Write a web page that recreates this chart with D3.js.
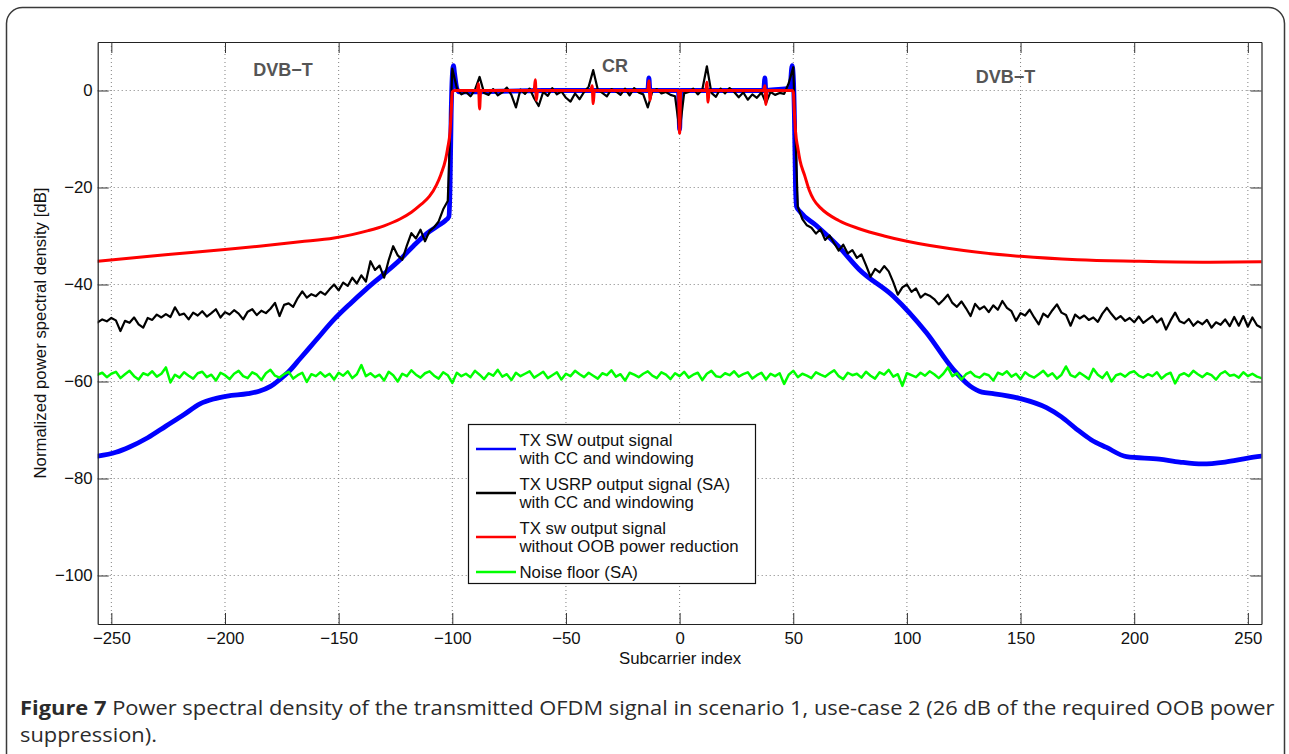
<!DOCTYPE html>
<html>
<head>
<meta charset="utf-8">
<script src="https://cdn.jsdelivr.net/npm/d3@7"></script>
<style>
  html, body { margin: 0; padding: 0; background: #fff; }
  svg { display: block; }
</style>
</head>
<body>
<div id="chart"></div>
<script>
// axis ticks
const subcarrierTicks = [-250, -200, -150, -100, -50, 0, 50, 100, 150, 200, 250];
const dbTicks = [-100, -80, -60, -40, -20, 0];

// TX SW output signal with CC and windowing (smooth, read as [subcarrier, dB])
const swWindowed = [
  [-256, -75.4], [-248, -74.6], [-242, -73.5], [-234, -71.6], [-226, -69.2], [-218, -66.8],
  [-211, -64.6], [-205, -63.6], [-199, -63.0], [-190, -62.5], [-185, -62.0], [-180, -61.0],
  [-176, -59.6], [-172, -58.0], [-167, -55.3], [-160, -51.5], [-152, -47.2], [-145, -44.0],
  [-138, -41.0], [-130, -37.8], [-123, -34.9], [-117, -32.0], [-111, -29.4], [-106, -27.8],
  [-103, -26.8], [-101.5, -26], [-101, -20], [-100.5, -5], [-100, 3], [-99.5, 5.1], [-99, 3.5],
  [-98, 0.4], [-97, -0.3], [-60, 0], [-14, 0], [-13.5, 2.6], [-13, -0.4], [-12.5, 0],
  [-0.5, 0], [0, -8.0], [0.5, 0], [37, 0], [37.5, 2.6], [38, -0.3], [38.5, 0], [48.5, 0.5],
  [49.5, 5.1], [50, 3], [50.5, -5], [51, -20], [51.5, -24], [53, -25], [60, -27.8],
  [70, -32.2], [79, -36.9], [94, -42.4], [108.7, -50], [120.4, -57.5], [127.7, -60.9],
  [133, -62.2], [138, -62.5], [149.7, -63.5], [161.4, -65.4], [168, -67.3], [174.6, -69.8],
  [181, -72], [187.8, -73.6], [196.6, -75.5], [211, -76], [220, -76.6], [230, -77.0],
  [240, -76.6], [250, -75.8], [256, -75.4]
];

// TX USRP output signal (SA), one value every 2 subcarriers from -256 to 256
const usrpDb = [
  -47.8, -47.2, -47.6, -46.9, -47.4, -49.6, -47.5, -47.9, -46.8, -48.2,
  -48.9, -46.9, -47.3, -46.2, -46.8, -46.1, -46.7, -44.7, -46.3, -46.0,
  -47.2, -45.8, -46.4, -45.5, -46.6, -45.9, -45.1, -46.8, -45.7, -46.2,
  -45.3, -46.0, -47.2, -45.6, -45.1, -46.3, -45.4, -45.9, -45.0, -43.8,
  -46.5, -44.2, -43.9, -44.6, -42.8, -41.4, -42.7, -42.0, -42.4, -41.5,
  -42.1, -41.0, -40.0, -41.2, -39.6, -40.3, -38.6, -39.8, -38.1, -39.4,
  -35.2, -37.0, -36.1, -38.6, -35.0, -32.1, -34.0, -34.9, -32.0, -29.4,
  -30.5, -28.7, -31.1, -29.0, -28.2, -27.0, -24.5, -22.8, 4.5, 0.5,
  -0.8, -0.3, -1.2, 0.2, 2.8, -0.5, -0.9, 0.3, -1.0, -0.4,
  0.6, -0.9, -3.5, 0.2, -0.7, 0.4, -1.6, -3.2, -0.3, -1.1,
  0.5, -0.8, -0.2, -1.5, -2.3, -0.6, -1.8, -0.3, 0.8, 4.2,
  0.2, -0.5, -1.2, 0.3, -0.2, -0.9, 0.4, -1.0, 0.5, -0.4,
  -0.8, -3.5, -0.2, 0.3, -0.6, -0.3, -0.9, -1.2, -8.3, -0.6,
  -0.3, 0.4, -0.8, 0.2, 5.0, -0.5, -1.3, 0.4, -0.6, 0.5,
  -0.3, -1.4, -0.4, -1.9, -0.8, -1.5, -0.4, -2.6, -0.3, -0.9,
  -0.5, -0.7, 1.5, 4.8, -24.0, -26.5, -27.8, -28.3, -29.5, -28.6,
  -30.8, -29.9, -31.5, -33.0, -31.8, -33.6, -32.9, -34.5, -33.8, -36.0,
  -38.4, -36.8, -37.5, -36.2, -37.3, -39.5, -42.1, -40.6, -40.0, -41.5,
  -40.8, -42.7, -41.9, -42.3, -43.0, -44.1, -43.2, -42.1, -43.8, -44.6,
  -43.5, -44.9, -46.5, -44.0, -45.1, -44.5, -45.7, -44.3, -45.2, -43.4,
  -44.8, -45.5, -47.5, -45.9, -46.4, -45.2, -46.8, -48.2, -46.0, -46.7,
  -45.3, -44.1, -45.8, -46.3, -48.5, -46.2, -47.0, -46.4, -47.3, -46.8,
  -47.7, -46.0, -44.8, -46.1, -47.2, -46.5, -47.5, -46.9, -47.8, -46.6,
  -47.9, -47.2, -46.5, -47.8, -47.0, -49.3, -47.4, -45.8, -47.6, -48.0,
  -47.1, -48.5, -47.6, -48.2, -47.3, -48.9, -47.8, -48.3, -47.2, -48.6,
  -46.7, -48.5, -46.5, -48.7, -46.8, -48.4, -48.9
];

// TX sw output signal without OOB power reduction
const swNoReduction = [
  [-256, -35.2], [-240, -34.5], [-225, -33.8], [-200, -32.8], [-185, -32.1], [-167, -31.2],
  [-152, -30.4], [-137, -28.9], [-130, -27.9], [-123, -26.5], [-118, -25.1], [-114, -23.6],
  [-110, -21.8], [-107, -19.5], [-105, -17.3], [-103, -14.3], [-102, -11.8], [-101, -8.5],
  [-100.5, -4.5], [-100, -0.3], [-99, 0], [-89, 0], [-88.5, 1.4], [-88, -3.8], [-87.5, 0],
  [-64, 0], [-63.5, 2.2], [-63, -2.0], [-62.5, 0], [-39, 0], [-38.5, 1.0], [-38, -2.7],
  [-37.5, 0], [-14, 0], [-13.5, 2.0], [-13, -2.0], [-12.5, 0], [-0.5, 0], [0, -8.8],
  [0.5, 0], [11.5, 0], [12, 1.7], [12.5, -2.4], [13, 0], [37, 0], [37.5, 1.0], [38, -2.9],
  [38.5, 0], [49.5, 0], [50, -0.3], [50.5, -4.5], [51, -8.5], [52, -11.8], [53, -14.5],
  [55, -17.5], [57, -20.5], [59, -22.5], [62, -24.2], [70, -26.8], [79, -28.5], [90, -30.0],
  [100, -31.1], [125, -33.0], [150, -34.2], [175, -34.9], [200, -35.2], [230, -35.4],
  [256, -35.3]
];

// Noise floor (SA), one value every 2 subcarriers from -256 to 256
const noiseFloorDb = [
  -58.6, -58.2, -59.1, -58.4, -58.0, -59.3, -58.5, -57.8, -58.9, -59.6,
  -58.3, -58.7, -57.9, -59.0, -58.4, -57.1, -60.2, -58.6, -59.2, -58.1,
  -58.8, -59.4, -58.3, -58.0, -59.1, -58.6, -59.8, -58.2, -58.7, -59.5,
  -58.4, -57.8, -58.9, -59.3, -58.1, -58.6, -59.7, -58.3, -57.6, -58.8,
  -59.2, -58.5, -58.0, -59.4, -58.7, -58.2, -60.1, -58.5, -58.9, -58.1,
  -59.0, -58.4, -59.6, -58.2, -58.8, -57.9, -59.3, -58.5, -56.6, -58.9,
  -58.3, -59.1, -58.6, -59.8, -58.0, -58.7, -60.0, -58.4, -58.9, -57.7,
  -58.6, -59.2, -58.3, -57.9, -58.8, -59.4, -58.1, -58.7, -60.3, -58.2,
  -58.9, -58.4, -59.1, -57.8, -58.6, -59.5, -58.3, -58.8, -57.6, -59.0,
  -58.5, -59.7, -58.2, -58.9, -58.4, -57.9, -59.2, -58.6, -58.0, -59.3,
  -58.7, -58.1, -59.6, -58.4, -58.9, -57.8, -58.5, -59.1, -58.2, -58.8,
  -59.4, -58.3, -58.7, -57.7, -59.0, -58.5, -59.8, -58.2, -58.6, -59.1,
  -58.4, -57.9, -58.8, -59.3, -58.1, -58.6, -59.5, -58.3, -58.9, -58.0,
  -59.2, -58.6, -58.2, -59.7, -58.4, -57.8, -58.9, -59.1, -58.3, -58.7,
  -57.9, -59.0, -58.5, -58.1, -59.4, -58.7, -58.2, -59.6, -58.4, -58.9,
  -58.3, -60.5, -58.6, -57.8, -59.1, -58.4, -58.8, -59.3, -58.1, -58.6,
  -59.0, -58.3, -57.7, -58.9, -59.5, -58.2, -58.7, -58.4, -59.2, -58.0,
  -58.8, -59.4, -58.1, -58.6, -57.6, -59.0, -58.5, -60.9, -58.3, -58.7,
  -59.1, -58.2, -58.8, -57.9, -58.5, -59.3, -58.4, -57.1, -58.9, -58.3,
  -59.6, -58.5, -58.0, -58.9, -59.2, -58.4, -58.7, -59.8, -58.2, -58.6,
  -57.9, -59.0, -58.4, -59.5, -58.1, -58.8, -59.2, -58.5, -57.8, -58.9,
  -58.3, -59.4, -58.6, -56.9, -58.7, -59.1, -58.2, -58.8, -59.5, -57.4,
  -58.6, -59.3, -58.1, -60.0, -58.7, -58.4, -59.0, -58.2, -57.9, -58.8,
  -59.2, -58.5, -58.9, -58.1, -59.4, -58.6, -58.2, -60.4, -58.7, -58.3,
  -58.9, -57.8, -58.5, -59.1, -58.3, -58.7, -59.6, -58.4, -57.9, -58.8,
  -58.6, -59.2, -58.1, -58.9, -58.4, -59.0, -59.3
];

// band annotations [label, subcarrier, dB]
const bandLabels = [["DVB\u2212T", -174.5, 3.0], ["CR", -28.4, 3.9], ["DVB\u2212T", 143.4, 1.5]];

const legendLabels = [
  ["TX SW output signal", "with CC and windowing"],
  ["TX USRP output signal (SA)", "with CC and windowing"],
  ["TX sw output signal", "without OOB power reduction"],
  ["Noise floor (SA)"]
];
const seriesColors = ["#0000ff", "#000000", "#ff0000", "#00ff00"];
const seriesWidths = [4.8, 2.2, 3, 2.5];

const width = 1289, height = 754;
const plot = {left: 97.7, right: 1261.5, top: 42, bottom: 624};
const axisFont = "'Liberation Sans', Arial, sans-serif";

const svg = d3.select("#chart").append("svg")
    .attr("width", width)
    .attr("height", height)
    .attr("viewBox", [0, 0, width, height]);

// outer rounded frame
svg.append("rect")
    .attr("x", 6.5).attr("y", 7.5)
    .attr("width", 1278).attr("height", 770)
    .attr("rx", 16)
    .attr("fill", "none")
    .attr("stroke", "#3a3a3a")
    .attr("stroke-width", 1.5);

const x = d3.scaleLinear().domain([-256, 256]).range([plot.left, plot.right]);
const y = d3.scaleLinear().domain([-110, 10]).range([plot.bottom, plot.top]);

// grid
const grid = svg.append("g")
    .attr("stroke", "#808080")
    .attr("stroke-width", 1)
    .attr("stroke-dasharray", "1,3");
grid.selectAll("line.gx").data(subcarrierTicks).join("line")
    .attr("class", "gx")
    .attr("x1", d => x(d)).attr("x2", d => x(d))
    .attr("y1", plot.top).attr("y2", plot.bottom);
grid.selectAll("line.gy").data(dbTicks).join("line")
    .attr("class", "gy")
    .attr("x1", plot.left).attr("x2", plot.right)
    .attr("y1", d => y(d)).attr("y2", d => y(d));

// curves
svg.append("clipPath").attr("id", "clip")
  .append("rect")
    .attr("x", plot.left).attr("y", plot.top)
    .attr("width", plot.right - plot.left).attr("height", plot.bottom - plot.top);

const smoothLine = d3.line()
    .x(d => x(d[0]))
    .y(d => y(d[1]))
    .curve(d3.curveMonotoneX);
const rawLine = d3.line()
    .x((d, i) => x(-256 + 2 * i))
    .y(d => y(d));

const curves = svg.append("g")
    .attr("clip-path", "url(#clip)")
    .attr("fill", "none")
    .attr("stroke-linejoin", "round")
    .attr("stroke-linecap", "round");

curves.append("path").attr("d", smoothLine(swWindowed))
    .attr("stroke", seriesColors[0]).attr("stroke-width", seriesWidths[0]);
curves.append("path").attr("d", rawLine(usrpDb))
    .attr("stroke", seriesColors[1]).attr("stroke-width", seriesWidths[1]);
curves.append("path").attr("d", smoothLine(swNoReduction))
    .attr("stroke", seriesColors[2]).attr("stroke-width", seriesWidths[2]);
curves.append("path").attr("d", rawLine(noiseFloorDb))
    .attr("stroke", seriesColors[3]).attr("stroke-width", seriesWidths[3]);

// axes (ticks point inward, like MATLAB)
function styleAxis(g) {
    g.select(".domain").attr("stroke", "#222").attr("stroke-width", 1.2);
    g.selectAll(".tick line").attr("stroke", "#333").attr("stroke-width", 1);
    g.selectAll(".tick text")
        .attr("fill", "#111")
        .style("font-family", axisFont)
        .style("font-size", "16.8px");
}

svg.append("g")
    .attr("transform", `translate(0,${plot.bottom})`)
    .call(d3.axisBottom(x).tickValues(subcarrierTicks).tickSizeInner(-11).tickSizeOuter(0).tickPadding(8))
    .call(styleAxis);
svg.append("g")
    .attr("transform", `translate(0,${plot.top})`)
    .call(d3.axisTop(x).tickValues(subcarrierTicks).tickSizeInner(-11).tickSizeOuter(0).tickFormat(""))
    .call(styleAxis);
svg.append("g")
    .attr("transform", `translate(${plot.left},0)`)
    .call(d3.axisLeft(y).tickValues(dbTicks).tickSizeInner(-11).tickSizeOuter(0).tickPadding(5))
    .call(styleAxis);
svg.append("g")
    .attr("transform", `translate(${plot.right},0)`)
    .call(d3.axisRight(y).tickValues(dbTicks).tickSizeInner(-11).tickSizeOuter(0).tickFormat(""))
    .call(styleAxis);

// axis titles
svg.append("text")
    .attr("x", (plot.left + plot.right) / 2 + 0.5)
    .attr("y", 664)
    .attr("text-anchor", "middle")
    .style("font-family", axisFont)
    .style("font-size", "16.8px")
    .attr("fill", "#111")
    .text("Subcarrier index");
svg.append("text")
    .attr("transform", `translate(46,${(plot.top + plot.bottom) / 2}) rotate(-90)`)
    .attr("text-anchor", "middle")
    .style("font-family", axisFont)
    .style("font-size", "16.8px")
    .attr("fill", "#111")
    .text("Normalized power spectral density [dB]");

// band labels
svg.selectAll("text.band").data(bandLabels).join("text")
    .attr("class", "band")
    .attr("x", d => x(d[1]))
    .attr("y", d => y(d[2]))
    .attr("text-anchor", "middle")
    .style("font-family", axisFont)
    .style("font-size", "18px")
    .style("font-weight", "bold")
    .attr("fill", "#555")
    .text(d => d[0]);

// legend
const legend = svg.append("g");
legend.append("rect")
    .attr("x", 468.5).attr("y", 424.5)
    .attr("width", 287).attr("height", 159)
    .attr("fill", "#fff")
    .attr("stroke", "#111")
    .attr("stroke-width", 1.2);

let cursor = 440;
legendLabels.forEach((lines, i) => {
    const mid = cursor + (lines.length - 1) * 9;
    legend.append("line")
        .attr("x1", 476).attr("x2", 516)
        .attr("y1", mid).attr("y2", mid)
        .attr("stroke", seriesColors[i])
        .attr("stroke-width", 2.5);
    lines.forEach((t, j) => {
        legend.append("text")
            .attr("x", 519.5)
            .attr("y", cursor + j * 18)
            .attr("dy", "0.36em")
            .style("font-family", axisFont)
            .style("font-size", "16.8px")
            .attr("fill", "#111")
            .text(t);
    });
    cursor += lines.length * 18 + 8;
});

// caption, squeezed horizontally to fit the frame like the condensed journal font
const captionFont = "'Open Sans', 'Noto Sans', sans-serif";
const cap = svg.append("g");
const cap1 = cap.append("text")
    .attr("x", 0).attr("y", 715)
    .style("font-family", captionFont)
    .style("font-size", "20px")
    .attr("fill", "#2b2b2b");
cap1.append("tspan").style("font-weight", "bold").text("Figure 7");
cap1.append("tspan").text(" Power spectral density of the transmitted OFDM signal in scenario 1, use-case 2 (26 dB of the required OOB power");
const cap2 = cap.append("text")
    .attr("x", 0).attr("y", 742)
    .style("font-family", captionFont)
    .style("font-size", "20px")
    .attr("fill", "#2b2b2b")
    .text("suppression).");

const natural = cap1.node().getComputedTextLength();
const sx = (1275 - 20) / natural;
cap.attr("transform", `translate(20,0) scale(${sx},1)`);
</script>
</body>
</html>
